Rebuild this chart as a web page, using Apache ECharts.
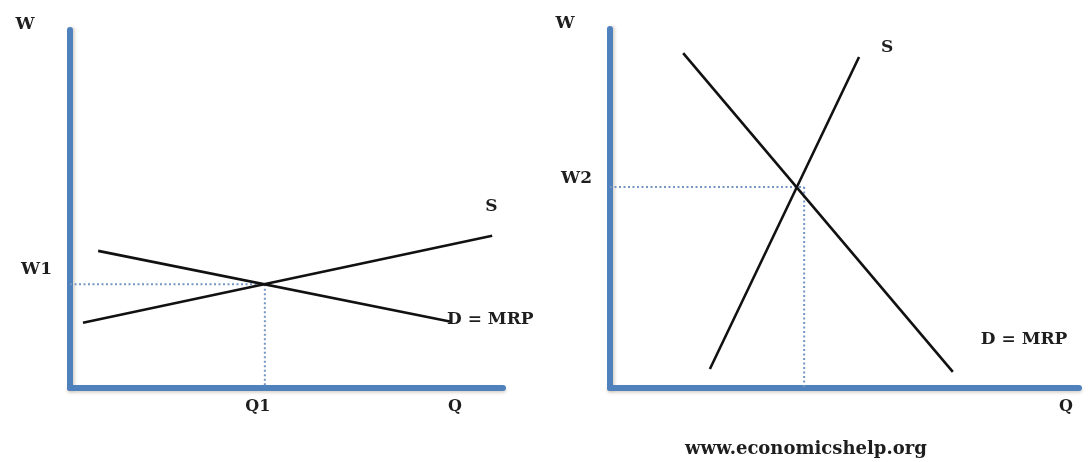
<!DOCTYPE html>
<html>
<head>
<meta charset="utf-8">
<script src="https://cdn.jsdelivr.net/npm/echarts@6/dist/echarts.min.js"></script>
<style>
  html, body { margin: 0; padding: 0; background: #fff; }
  #chart { width: 1090px; height: 462px; }
</style>
</head>
<body>
<div id="chart"></div>
<script>
// left panel (inelastic labour market)
const leftDemand = [[6.5, 38.3], [88, 18.5]];
const leftSupply = [[3, 18.2], [97.5, 42.5]];
const leftWage = 29;     // W1
const leftQty = 45;      // Q1
const leftXTicks = [45, 90.5];
const leftXLabels = ["Q1", "Q"];
const leftYTicks = [29];
const leftYLabels = ["W1"];

// right panel (steep supply and demand)
const rightDemand = [[15.6, 93.3], [73.1, 4.5]];
const rightSupply = [[21.3, 5.3], [53.1, 92.2]];
const rightWage = 56;    // W2
const rightQty = 41.4;
const rightXTicks = [98.7];
const rightXLabels = ["Q"];
const rightYTicks = [56];
const rightYLabels = ["W2"];

const FONT = "DejaVu Serif";
const AXIS_BLUE = "#4f81bd";
const DOT_BLUE = "#7496c2";
const INK = "#1e1e1e";

const chart = echarts.init(document.getElementById("chart"), null, { renderer: "canvas" });

function pickLabel(ticks, labels) {
  return (v) => {
    const i = ticks.findIndex((t) => Math.abs(t - v) < 1e-6);
    return i >= 0 ? labels[i] : "";
  };
}

function xAxisFor(gridIndex, ticks, labels) {
  return {
    type: "value",
    gridIndex,
    min: 0,
    max: 100,
    axisLine: {
      show: true,
      onZero: false,
      lineStyle: { color: AXIS_BLUE, width: 6, shadowColor: "rgba(120,90,60,0.25)", shadowBlur: 3, shadowOffsetY: 2 },
    },
    axisTick: { show: false },
    splitLine: { show: false },
    axisLabel: {
      customValues: ticks,
      formatter: pickLabel(ticks, labels),
      color: INK,
      fontFamily: FONT,
      fontSize: 16,
      fontWeight: "bold",
      margin: 11,
      padding: [0, 14, 0, 0],
    },
  };
}

function yAxisFor(gridIndex, ticks, labels, name, lift) {
  return {
    type: "value",
    gridIndex,
    min: 0,
    max: 100,
    name,
    nameLocation: "end",
    nameGap: -3,
    nameTextStyle: { color: INK, fontFamily: FONT, fontSize: 17, fontWeight: "bold", padding: [0, 90, 0, 0] },
    axisLine: {
      show: true,
      onZero: false,
      lineStyle: { color: AXIS_BLUE, width: 6, shadowColor: "rgba(120,90,60,0.25)", shadowBlur: 3, shadowOffsetX: 2 },
    },
    axisTick: { show: false },
    splitLine: { show: false },
    axisLabel: {
      customValues: ticks,
      formatter: pickLabel(ticks, labels),
      color: INK,
      fontFamily: FONT,
      fontSize: 17,
      fontWeight: "bold",
      margin: 18,
      verticalAlign: "bottom",
      padding: [0, 0, lift, 0],
    },
  };
}

function curve(idx, data, text, offset) {
  return {
    type: "line",
    xAxisIndex: idx,
    yAxisIndex: idx,
    data,
    symbol: "none",
    silent: true,
    lineStyle: { color: "#111", width: 2.6 },
    endLabel: {
      show: true,
      formatter: text,
      color: INK,
      fontFamily: FONT,
      fontSize: 17,
      fontWeight: "bold",
      offset,
    },
  };
}

function dotted(idx, data) {
  return {
    type: "line",
    xAxisIndex: idx,
    yAxisIndex: idx,
    data,
    symbol: "none",
    silent: true,
    z: 1,
    lineStyle: { color: DOT_BLUE, width: 2, type: [2, 2.5] },
  };
}

const option = {
  backgroundColor: "#fff",
  animation: false,
  title: {
    text: "www.economicshelp.org",
    left: 685,
    top: 440,
    padding: 0,
    textStyle: { color: INK, fontFamily: FONT, fontSize: 18, fontWeight: "bold" },
  },
  grid: [
    { left: 70, top: 30, width: 433, height: 358 },
    { left: 610, top: 29, width: 469, height: 359 },
  ],
  xAxis: [
    xAxisFor(0, leftXTicks, leftXLabels),
    xAxisFor(1, rightXTicks, rightXLabels),
  ],
  yAxis: [
    yAxisFor(0, leftYTicks, leftYLabels, "W", 6),
    yAxisFor(1, rightYTicks, rightYLabels, "W", 0),
  ],
  series: [
    dotted(0, [[0, leftWage], [leftQty, leftWage]]),
    dotted(0, [[leftQty, leftWage], [leftQty, 0]]),
    curve(0, leftDemand, "D = MRP", [-12, -2]),
    curve(0, leftSupply, "S", [-15, -29]),
    dotted(1, [[0, rightWage], [rightQty, rightWage]]),
    dotted(1, [[rightQty, rightWage], [rightQty, 0]]),
    curve(1, rightDemand, "D = MRP", [20, -32]),
    curve(1, rightSupply, "S", [14, -9]),
  ],
};

chart.setOption(option);
window.addEventListener("resize", () => chart.resize());
</script>
</body>
</html>
